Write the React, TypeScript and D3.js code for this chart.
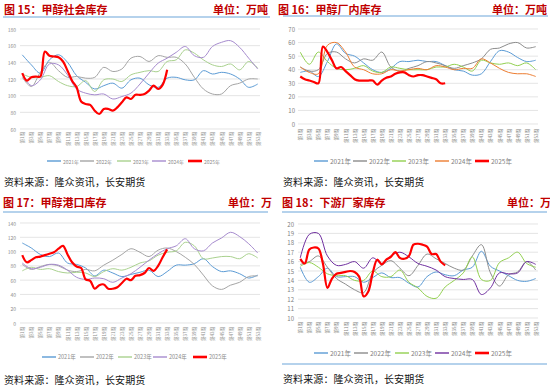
import React from 'react';
import * as d3 from 'd3';

const weeks = d3.range(1, 54);
const oddWeeks = weeks.filter(w => w % 2 === 1);
const years = ['2021年', '2022年', '2023年', '2024年', '2025年'];

// 图15 甲醇社会库存 (odd weeks for history, weekly for 2025)
const social2021 = [149, 137, 127, 143, 149, 140, 124, 116, 108, 112, 115, 109, 119, 121, 113, 110, 121, 122, 119, 119, 130, 126, 128, 126, 120, 110, 114];
const social2022 = [122, 111, 128, 140, 130, 122, 123, 121, 122, 134, 129, 132, 145, 147, 141, 148, 146, 146, 138, 122, 108, 102, 102, 112, 115, 120, 120];
const social2023 = [126, 122, 122, 124, 117, 112, 111, 118, 105, 119, 120, 117, 125, 128, 130, 129, 141, 143, 155, 151, 143, 137, 135, 138, 131, 141, 133];
const social2024 = [127, 112, 119, 138, 137, 125, 108, 103, 101, 102, 96, 99, 103, 114, 127, 139, 145, 152, 159, 148, 146, 159, 164, 166, 158, 145, 132];
const social2025 = [127, 118, 122, 123, 123, 153, 148, 147, 146, 141, 130, 118, 110, 93, 90, 89, 82, 78, 84, 84, 82, 86, 92, 98, 96, 101, 101, 102, 106, 112, 108, 113, 131];

// 图16 甲醇厂内库存
const factory2021 = [38, 39, 35, 46, 59, 52, 50, 45, 40, 38, 41, 46, 46, 47, 46, 46, 43, 40, 39, 36, 37, 46, 54, 53, 49, 46, 47];
const factory2022 = [42, 39, 40, 52, 53, 48, 45, 48, 47, 53, 42, 39, 41, 43, 46, 45, 43, 41, 43, 45, 48, 55, 56, 59, 60, 56, 57];
const factory2023 = [53, 44, 53, 46, 41, 40, 41, 43, 39, 38, 42, 41, 40, 40, 40, 42, 42, 44, 42, 39, 47, 45, 44, 45, 43, 45, 40];
const factory2024 = [42, 38, 37, 58, 60, 53, 42, 40, 37, 37, 40, 39, 40, 41, 40, 43, 42, 40, 41, 41, 48, 45, 41, 38, 37, 37, 35];
const factory2025 = [35, 33, 32, 31, 30, 57, 53, 47, 41, 42, 39, 36, 33, 32, 32, 32, 32, 29, 32, 34, 35, 37, 38, 38, 36, 35, 36, 36, 35, 34, 33, 30, 30];

// 图17 甲醇港口库存
const port2021 = [112, 105, 96, 93, 98, 84, 82, 77, 66, 74, 70, 65, 68, 71, 74, 65, 72, 81, 81, 83, 90, 79, 72, 73, 69, 63, 67];
const port2022 = [82, 75, 79, 82, 80, 74, 72, 75, 73, 81, 88, 96, 104, 99, 93, 102, 105, 100, 92, 82, 67, 52, 47, 53, 57, 65, 66];
const port2023 = [73, 78, 75, 76, 72, 70, 71, 70, 65, 72, 76, 74, 78, 84, 87, 95, 99, 101, 113, 108, 90, 91, 93, 93, 90, 97, 91];
const port2024 = [84, 76, 78, 82, 81, 74, 64, 61, 63, 62, 57, 63, 69, 78, 88, 97, 104, 108, 118, 104, 101, 112, 119, 127, 121, 111, 98];
const port2025 = [95, 85, 88, 92, 93, 95, 97, 99, 104, 108, 96, 85, 79, 77, 61, 59, 48, 53, 54, 48, 48, 50, 56, 62, 60, 66, 67, 70, 77, 73, 80, 92, 103];

// 图18 下游厂家库存
const down2021 = [15.4, 13.8, 14.4, 15.3, 14.4, 14.4, 14.4, 13.8, 14.3, 14.8, 14.3, 14.3, 13.7, 13.3, 14.4, 14.9, 14.6, 14.5, 15.1, 15.4, 17.1, 15.5, 15.0, 14.5, 14.0, 13.9, 14.2];
const down2022 = [15.7, 16.0, 16.6, 15.4, 14.2, 13.6, 13.0, 12.7, 14.8, 15.6, 16.1, 15.3, 14.5, 15.6, 16.8, 16.3, 15.8, 15.3, 15.1, 16.6, 17.8, 14.8, 13.4, 14.6, 14.9, 16.0, 15.1];
const down2023 = [15.5, 15.9, 15.4, 14.7, 14.5, 14.5, 14.0, 14.0, 15.0, 14.4, 14.4, 15.1, 13.8, 13.2, 12.3, 12.1, 13.3, 14.0, 14.8, 16.5, 14.1, 14.0, 15.9, 16.4, 17.0, 15.8, 15.4];
const down2024 = [16.4, 18.9, 19.0, 16.6, 15.6, 15.7, 16.0, 15.3, 16.4, 15.8, 16.6, 17.0, 16.5, 15.8, 15.5, 15.1, 14.4, 14.2, 14.1, 14.1, 12.5, 13.2, 14.8, 14.7, 14.8, 16.0, 15.7];
const down2025 = [16.3, 15.8, 17.3, 17.5, 17.4, 15.8, 13.2, 14.2, 14.7, 14.8, 14.9, 15.0, 14.9, 14.4, 12.3, 12.8, 14.8, 16.2, 15.7, 16.2, 16.5, 17.0, 16.4, 16.3, 16.6, 17.8, 17.9, 17.8, 17.6, 16.8, 16.8, 16.0, 15.6];

const FONT = '"Noto Sans CJK SC", "Noto Sans", sans-serif';
const TITLE_RED = '#C00000';
const RULE = '#9DC3E6';

type Series = { values: number[]; color: string; weekly?: boolean };

type PanelCfg = {
  title: string; unit: string;
  titleX: number; titleY: number; unitX: number;
  rule: [number, number, number];
  left: number; right: number; top: number; bottom: number;
  domain: [number, number]; step: number;
  tickFont: number; tickColor: string; tickX: number;
  xLabelY: number; xLabelFont: number;
  legendY: number; legendX: number[]; legendFont: number;
  sourceX: number; sourceY: number;
  series: Series[];
};

const Panel = ({ cfg }: { cfg: PanelCfg }) => {
  const x = d3.scaleBand<number>().domain(weeks).range([cfg.left, cfg.right]);
  const cx = (w: number) => (x(w) as number) + x.bandwidth() / 2;
  const y = d3.scaleLinear().domain(cfg.domain).range([cfg.bottom, cfg.top]);
  const ticks = d3.range(cfg.domain[0], cfg.domain[1] + cfg.step / 2, cfg.step);
  const line = d3.line<[number, number]>()
    .x(d => cx(d[0]))
    .y(d => y(d[1]))
    .curve(d3.curveCatmullRom.alpha(0.5));

  return (
    <g fontFamily={FONT}>
      <text x={cfg.titleX} y={cfg.titleY} fontSize={11} fontWeight="bold" fill={TITLE_RED}>{cfg.title}</text>
      <text x={cfg.unitX} y={cfg.titleY} fontSize={11} fontWeight="bold" fill={TITLE_RED}>{cfg.unit}</text>
      <line x1={cfg.rule[1]} x2={cfg.rule[2]} y1={cfg.rule[0]} y2={cfg.rule[0]} stroke={RULE} strokeWidth={1.5} />

      {ticks.map(t => (
        <g key={t}>
          <line x1={cfg.left} x2={cfg.right} y1={y(t)} y2={y(t)} stroke="#D9D9D9" strokeWidth={0.7} />
          <text x={cfg.tickX} y={y(t)} fontSize={cfg.tickFont} fill={cfg.tickColor}
            textAnchor="end" dominantBaseline="central">{t}</text>
        </g>
      ))}

      {oddWeeks.map(w => (
        <text key={w} transform={`translate(${cx(w)},${cfg.xLabelY}) rotate(-90)`}
          fontSize={cfg.xLabelFont} fill={cfg.tickColor} textAnchor="end" dominantBaseline="central">
          {`第${w}周`}
        </text>
      ))}

      {cfg.series.map((s, i) => {
        const wk = s.weekly ? weeks : oddWeeks;
        const pts = s.values.map((v, j) => [wk[j], v] as [number, number]);
        return <path key={i} d={line(pts) || ''} fill="none" stroke={s.color}
          strokeWidth={s.weekly ? 2.2 : 1} strokeLinejoin="round" />;
      })}

      {cfg.series.map((s, i) => (
        <g key={'lg' + i}>
          <line x1={cfg.legendX[i]} x2={cfg.legendX[i] + 14} y1={cfg.legendY} y2={cfg.legendY}
            stroke={s.color} strokeWidth={s.weekly ? 2.6 : 1.4} />
          <text x={cfg.legendX[i] + 16} y={cfg.legendY} fontSize={cfg.legendFont} fill={cfg.tickColor}
            dominantBaseline="central">{years[i]}</text>
        </g>
      ))}

      <text x={cfg.sourceX} y={cfg.sourceY} fontSize={10} fill="#111" letterSpacing={0.1}>资料来源：隆众资讯，长安期货</text>
    </g>
  );
};

const panels: PanelCfg[] = [
  {
    title: '图 15：甲醇社会库存', unit: '单位：万吨', titleX: 4, titleY: 14, unitX: 213,
    rule: [17, 3, 270],
    left: 20, right: 260, top: 29, bottom: 129, domain: [60, 180], step: 20,
    tickFont: 5, tickColor: '#8C8C8C', tickX: 16,
    xLabelY: 132, xLabelFont: 4.5,
    legendY: 161, legendX: [47, 80, 117, 152, 188], legendFont: 5,
    sourceX: 4, sourceY: 186,
    series: [
      { values: social2021, color: '#5B9BD5' },
      { values: social2022, color: '#A5A5A5' },
      { values: social2023, color: '#A9D18E' },
      { values: social2024, color: '#A68BCE' },
      { values: social2025, color: '#FF0000', weekly: true },
    ],
  },
  {
    title: '图 16：甲醇厂内库存', unit: '单位：万吨', titleX: 278, titleY: 14, unitX: 492,
    rule: [16, 283, 548],
    left: 298, right: 538, top: 29, bottom: 124, domain: [0, 70], step: 10,
    tickFont: 6, tickColor: '#7F7F7F', tickX: 295,
    xLabelY: 129, xLabelFont: 4.5,
    legendY: 161, legendX: [314, 353, 392, 435, 475], legendFont: 6.5,
    sourceX: 283, sourceY: 186,
    series: [
      { values: factory2021, color: '#5B9BD5' },
      { values: factory2022, color: '#8C8C8C' },
      { values: factory2023, color: '#92D050' },
      { values: factory2024, color: '#ED7D31' },
      { values: factory2025, color: '#FF0000', weekly: true },
    ],
  },
  {
    title: '图 17：甲醇港口库存', unit: '单位：万', titleX: 3, titleY: 207, unitX: 228,
    rule: [212, 3, 268],
    left: 20, right: 260, top: 223, bottom: 323, domain: [0, 140], step: 20,
    tickFont: 5, tickColor: '#8C8C8C', tickX: 16,
    xLabelY: 327, xLabelFont: 4.5,
    legendY: 357, legendX: [42, 80, 118, 153, 193], legendFont: 5.5,
    sourceX: 4, sourceY: 384,
    series: [
      { values: port2021, color: '#5B9BD5' },
      { values: port2022, color: '#A5A5A5' },
      { values: port2023, color: '#A9D18E' },
      { values: port2024, color: '#A68BCE' },
      { values: port2025, color: '#FF0000', weekly: true },
    ],
  },
  {
    title: '图 18：下游厂家库存', unit: '单位：万', titleX: 282, titleY: 207, unitX: 507,
    rule: [212, 282, 547],
    left: 298, right: 538, top: 224, bottom: 318, domain: [10, 20], step: 1,
    tickFont: 6, tickColor: '#7F7F7F', tickX: 294,
    xLabelY: 322, xLabelFont: 4.5,
    legendY: 353, legendX: [314, 354, 395, 435, 475], legendFont: 6.5,
    sourceX: 283, sourceY: 383,
    series: [
      { values: down2021, color: '#5B9BD5' },
      { values: down2022, color: '#8C8C8C' },
      { values: down2023, color: '#92D050' },
      { values: down2024, color: '#7030A0' },
      { values: down2025, color: '#FF0000', weekly: true },
    ],
  },
];

const App = () => (
  <svg width={550} height={388} style={{ position: 'absolute', left: 0, top: 0, background: '#fff' }}>
    {panels.map((p, i) => <Panel key={i} cfg={p} />)}
    <line x1={282} x2={547} y1={364} y2={364} stroke={RULE} strokeWidth={1.5} />
  </svg>
);

export default App;
